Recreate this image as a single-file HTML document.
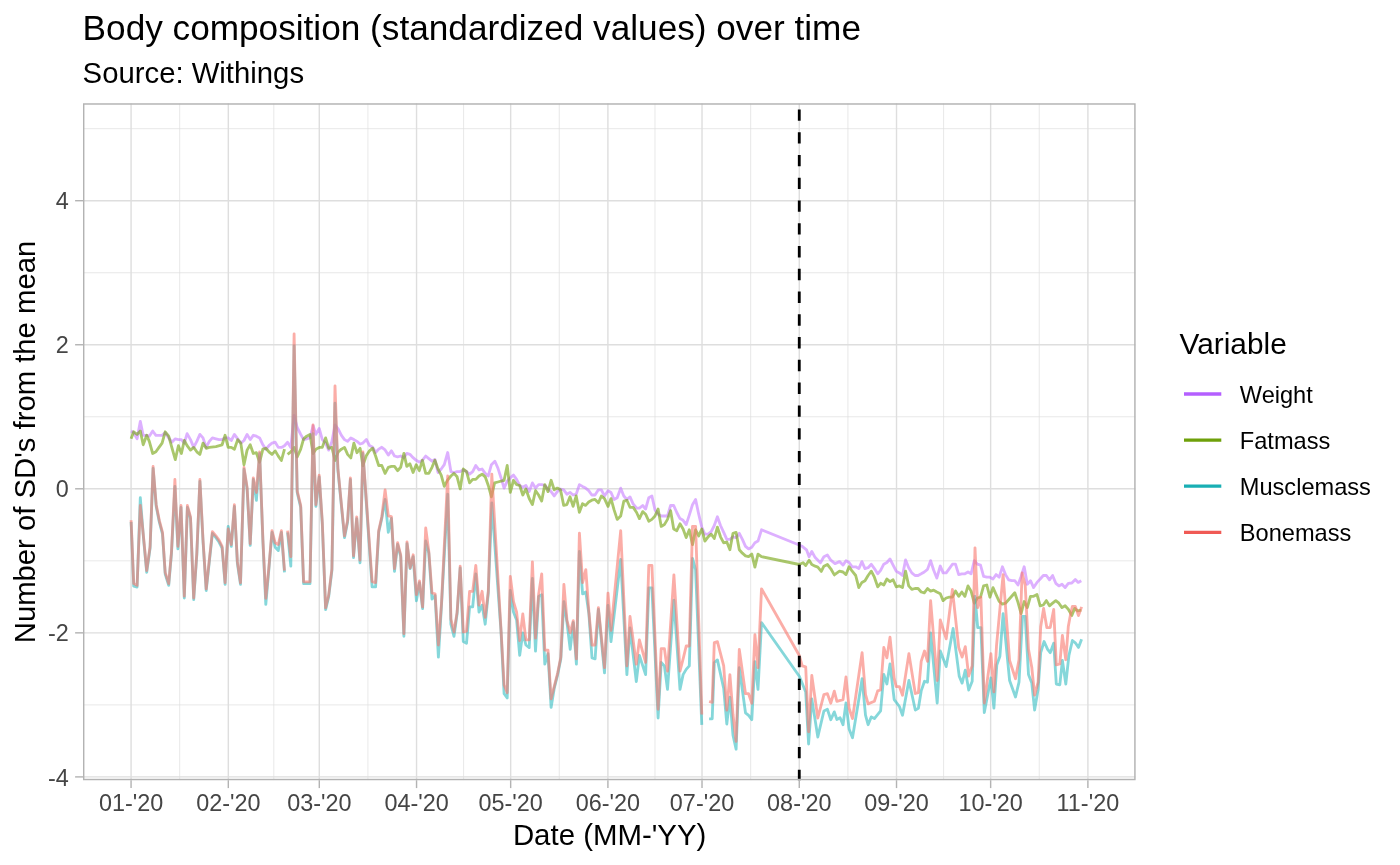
<!DOCTYPE html>
<html><head><meta charset="utf-8"><style>html,body{margin:0;padding:0;background:#fff;width:1400px;height:865px;overflow:hidden}svg{display:block;will-change:transform}</style></head>
<body><svg width="1400" height="865" viewBox="0 0 1400 865">
<rect width="1400" height="865" fill="#fff"/>
<defs><clipPath id="pc"><rect x="83.0" y="103.3" width="1052.6" height="676.9000000000001"/></clipPath></defs>
<g clip-path="url(#pc)">
<line x1="83.0" x2="1135.6" y1="848.92" y2="848.92" stroke="#DEDEDE" stroke-width="0.71"/>
<line x1="83.0" x2="1135.6" y1="704.88" y2="704.88" stroke="#DEDEDE" stroke-width="0.71"/>
<line x1="83.0" x2="1135.6" y1="560.83" y2="560.83" stroke="#DEDEDE" stroke-width="0.71"/>
<line x1="83.0" x2="1135.6" y1="416.77" y2="416.77" stroke="#DEDEDE" stroke-width="0.71"/>
<line x1="83.0" x2="1135.6" y1="272.73" y2="272.73" stroke="#DEDEDE" stroke-width="0.71"/>
<line x1="83.0" x2="1135.6" y1="128.68" y2="128.68" stroke="#DEDEDE" stroke-width="0.71"/>
<line y1="103.3" y2="780.2" x1="82.44" x2="82.44" stroke="#DEDEDE" stroke-width="0.71"/>
<line y1="103.3" y2="780.2" x1="179.70" x2="179.70" stroke="#DEDEDE" stroke-width="0.71"/>
<line y1="103.3" y2="780.2" x1="273.81" x2="273.81" stroke="#DEDEDE" stroke-width="0.71"/>
<line y1="103.3" y2="780.2" x1="367.92" x2="367.92" stroke="#DEDEDE" stroke-width="0.71"/>
<line y1="103.3" y2="780.2" x1="463.60" x2="463.60" stroke="#DEDEDE" stroke-width="0.71"/>
<line y1="103.3" y2="780.2" x1="559.28" x2="559.28" stroke="#DEDEDE" stroke-width="0.71"/>
<line y1="103.3" y2="780.2" x1="654.97" x2="654.97" stroke="#DEDEDE" stroke-width="0.71"/>
<line y1="103.3" y2="780.2" x1="750.65" x2="750.65" stroke="#DEDEDE" stroke-width="0.71"/>
<line y1="103.3" y2="780.2" x1="847.90" x2="847.90" stroke="#DEDEDE" stroke-width="0.71"/>
<line y1="103.3" y2="780.2" x1="943.58" x2="943.58" stroke="#DEDEDE" stroke-width="0.71"/>
<line y1="103.3" y2="780.2" x1="1039.26" x2="1039.26" stroke="#DEDEDE" stroke-width="0.71"/>
<line y1="103.3" y2="780.2" x1="1135.73" x2="1135.73" stroke="#DEDEDE" stroke-width="0.71"/>
<line x1="83.0" x2="1135.6" y1="776.90" y2="776.90" stroke="#DEDEDE" stroke-width="1.42"/>
<line x1="83.0" x2="1135.6" y1="632.85" y2="632.85" stroke="#DEDEDE" stroke-width="1.42"/>
<line x1="83.0" x2="1135.6" y1="488.80" y2="488.80" stroke="#DEDEDE" stroke-width="1.42"/>
<line x1="83.0" x2="1135.6" y1="344.75" y2="344.75" stroke="#DEDEDE" stroke-width="1.42"/>
<line x1="83.0" x2="1135.6" y1="200.70" y2="200.70" stroke="#DEDEDE" stroke-width="1.42"/>
<line y1="103.3" y2="780.2" x1="131.07" x2="131.07" stroke="#DEDEDE" stroke-width="1.42"/>
<line y1="103.3" y2="780.2" x1="228.32" x2="228.32" stroke="#DEDEDE" stroke-width="1.42"/>
<line y1="103.3" y2="780.2" x1="319.30" x2="319.30" stroke="#DEDEDE" stroke-width="1.42"/>
<line y1="103.3" y2="780.2" x1="416.55" x2="416.55" stroke="#DEDEDE" stroke-width="1.42"/>
<line y1="103.3" y2="780.2" x1="510.66" x2="510.66" stroke="#DEDEDE" stroke-width="1.42"/>
<line y1="103.3" y2="780.2" x1="607.91" x2="607.91" stroke="#DEDEDE" stroke-width="1.42"/>
<line y1="103.3" y2="780.2" x1="702.02" x2="702.02" stroke="#DEDEDE" stroke-width="1.42"/>
<line y1="103.3" y2="780.2" x1="799.27" x2="799.27" stroke="#DEDEDE" stroke-width="1.42"/>
<line y1="103.3" y2="780.2" x1="896.52" x2="896.52" stroke="#DEDEDE" stroke-width="1.42"/>
<line y1="103.3" y2="780.2" x1="990.64" x2="990.64" stroke="#DEDEDE" stroke-width="1.42"/>
<line y1="103.3" y2="780.2" x1="1087.89" x2="1087.89" stroke="#DEDEDE" stroke-width="1.42"/>
<polyline points="131.1,431.0 133.7,432.7 137.1,438.8 140.3,421.4 143.2,435.3 146.7,435.3 149.3,436.2 152.7,431.0 155.9,435.3 159.0,435.3 162.1,435.3 165.2,432.7 168.7,437.9 171.8,442.2 175.3,438.8 178.4,439.6 181.4,439.6 184.3,443.1 187.1,433.6 190.5,439.6 193.7,447.4 196.8,441.4 199.9,434.4 203.0,437.9 206.2,447.4 209.3,441.4 212.4,437.9 215.9,438.8 219.0,439.6 222.1,439.6 225.1,437.9 228.2,437.9 231.3,440.5 234.4,434.4 237.7,438.8 240.8,443.1 244.0,440.5 247.1,434.4 250.2,439.6 253.3,435.3 256.4,436.2 259.6,437.9 262.9,444.8 265.8,449.2 268.9,445.7 272.0,443.1 275.2,442.2 278.3,447.4 281.4,447.4 284.5,445.7 287.6,442.2 290.8,447.4 294.1,415.4 297.2,427.5 300.7,434.4 303.6,439.6 306.7,438.8 310.0,437.9 313.1,425.8 315.9,434.4 319.2,428.4 322.3,439.6 325.6,443.1 328.7,450.1 331.9,441.4 335.0,424.9 338.3,429.2 341.4,435.3 344.5,439.6 347.6,441.4 350.8,437.9 353.9,439.6 357.0,441.4 360.1,444.0 362.9,443.1 366.4,439.5 369.5,445.6 372.7,447.3 375.6,452.5 378.7,449.1 381.8,447.3 385.1,449.9 388.3,455.1 391.4,450.8 394.5,456.0 397.6,456.9 400.7,456.0 403.9,457.7 406.8,453.4 409.9,454.3 413.1,457.7 416.2,460.3 419.3,462.1 422.4,460.3 425.7,456.0 428.8,458.6 432.0,461.2 434.9,459.5 438.0,472.5 441.2,469.0 444.3,464.7 447.7,452.5 450.9,471.6 454.0,472.5 457.1,471.6 460.2,471.6 463.3,469.9 466.5,471.6 469.6,474.2 472.7,471.6 475.8,465.5 479.0,469.9 482.1,469.0 485.2,473.4 488.3,476.0 491.4,464.7 494.9,461.2 497.9,468.1 501.0,477.7 504.1,488.1 507.2,481.2 510.3,477.7 513.5,475.1 516.6,479.4 519.7,485.5 522.8,487.2 525.9,485.5 529.2,491.6 532.4,482.9 535.5,488.1 538.6,484.6 541.7,484.6 544.8,485.5 548.0,489.0 551.1,491.6 554.2,495.9 557.3,491.6 560.5,489.0 563.7,489.8 566.9,494.2 570.0,492.4 573.1,495.0 576.2,494.2 579.4,484.6 582.5,486.4 585.6,488.1 588.7,490.7 591.8,495.0 595.0,495.0 598.4,489.8 601.4,489.9 604.5,496.0 608.0,490.8 611.0,492.5 614.1,499.5 617.2,497.7 620.7,488.2 623.8,496.0 626.9,499.5 630.0,496.9 633.1,503.8 636.6,508.1 639.4,508.1 642.7,505.5 645.6,509.0 648.8,497.7 651.9,496.0 655.0,509.9 658.1,514.2 661.2,516.0 664.4,516.0 667.5,516.0 670.6,505.5 673.7,505.5 676.8,512.5 680.0,518.6 683.1,520.3 686.2,524.6 689.3,515.1 692.5,504.7 695.6,499.5 698.7,514.2 701.8,527.2 704.9,534.2 708.1,534.2 711.2,531.6 714.3,525.5 717.4,516.8 720.5,525.5 723.7,532.4 726.8,539.4 729.9,539.4 733.0,536.8 736.1,537.6 739.3,533.3 742.4,539.4 745.5,546.3 748.6,548.9 751.8,547.2 754.9,542.8 758.0,541.1 761.5,529.8 802.2,546.3 806.5,549.8 809.1,556.7 811.8,551.5 815.2,557.6 820.4,562.8 823.9,556.7 827.4,555.0 830.8,560.2 835.0,563.6 839.5,561.6 843.0,565.1 846.0,560.7 849.1,562.5 852.2,566.8 855.7,566.8 858.8,568.6 861.9,561.6 865.0,568.6 868.1,567.7 871.3,564.2 874.4,568.6 877.7,573.8 880.6,570.3 883.8,564.2 886.9,562.5 890.0,559.0 893.1,565.1 896.2,571.2 899.4,572.9 902.5,575.5 905.6,559.9 908.7,567.7 911.8,572.9 915.0,575.5 918.1,575.5 921.2,573.8 924.3,572.0 927.5,569.4 930.6,560.7 933.7,570.3 936.8,578.1 940.3,566.0 943.1,572.9 946.2,572.9 949.3,568.6 952.4,564.2 955.5,564.2 958.7,574.6 961.8,573.8 964.9,573.8 968.0,572.0 971.1,573.8 974.3,560.7 977.4,564.2 980.5,565.1 983.6,576.4 986.8,577.2 989.9,577.2 993.0,579.0 996.1,574.6 999.2,577.2 1002.4,566.8 1005.5,574.6 1008.6,579.8 1011.7,580.7 1014.8,580.7 1018.0,585.0 1021.1,576.4 1024.2,566.8 1027.3,584.2 1030.5,580.7 1033.6,587.6 1037.0,582.4 1040.2,579.0 1043.3,575.5 1046.4,575.5 1049.5,579.8 1052.6,575.5 1055.8,583.3 1058.9,585.9 1062.0,584.2 1065.1,587.6 1068.3,583.3 1071.8,583.0 1075.3,579.5 1078.2,582.4 1081.3,580.7" fill="none" stroke="#C77CFF" stroke-opacity="0.6" stroke-width="2.83" stroke-linejoin="round" stroke-linecap="butt"/><polyline points="131.1,438.8 133.7,431.8 137.1,434.4 140.3,431.0 143.2,444.8 146.7,435.3 149.3,441.4 152.7,453.5 155.9,451.8 159.0,447.4 162.1,443.1 165.2,431.8 168.7,436.2 171.8,447.4 175.3,459.6 178.4,445.7 181.4,453.5 184.3,440.5 187.1,445.7 190.5,450.1 193.7,447.4 196.8,451.8 199.9,454.4 203.0,443.1 206.2,448.3 209.3,447.4 215.9,446.6 222.1,444.8 225.1,435.3 228.2,447.4 231.3,447.4 234.4,449.2 237.7,439.6 240.8,443.1 244.0,464.8 247.1,450.1 250.2,444.8 253.3,453.5 256.4,452.7 259.6,462.2 262.9,449.2 265.8,448.3 268.9,451.8 272.0,454.4 275.2,450.9 278.3,456.1 281.4,460.5 284.5,449.2" fill="none" stroke="#72A20A" stroke-opacity="0.6" stroke-width="2.83" stroke-linejoin="round" stroke-linecap="butt"/><polyline points="287.6,454.4 290.8,451.8 294.1,447.4 297.2,457.0 300.7,449.2 303.6,438.8 306.7,436.2 310.0,434.4 313.1,453.5 315.9,449.2 319.2,447.4 322.3,447.4 325.6,437.9 328.7,448.3 331.9,447.4 335.0,460.5 338.3,451.8 341.4,449.2 344.5,447.4 347.6,454.4 350.8,457.9 353.9,443.1 357.0,452.7 360.1,448.3 362.9,465.7 366.1,456.0 369.5,450.8 372.7,448.2 375.6,456.0 378.7,465.5 381.8,465.5 385.1,473.4 388.3,467.3 391.4,466.4 394.5,466.4 397.6,470.7 400.7,467.3 403.9,453.4 406.8,466.4 409.9,463.8 413.1,472.5 416.2,464.7 419.3,470.7 422.4,460.3 425.7,473.4 428.8,473.4 432.0,467.3 434.9,460.3 438.0,469.0 441.2,475.1 444.3,486.4 447.4,480.3 450.9,476.0 454.0,473.4 457.1,476.8 460.2,489.0 463.3,469.0 466.5,471.6 469.6,482.9 472.7,479.4 475.8,479.4 479.0,476.0 482.1,474.2 485.2,476.8 488.3,485.5 491.4,496.8 494.6,482.9 497.9,482.0 501.0,481.2 504.1,480.3 507.2,465.5 510.3,492.4 513.5,480.3 516.6,484.6 519.7,485.5 522.8,495.0 525.9,489.0 529.2,498.5 532.4,504.6 535.5,490.7 538.6,495.0 541.7,501.1 544.8,484.6 548.0,491.6 551.1,480.3 554.2,489.8 557.3,488.1 560.5,489.8 563.7,505.4 566.9,504.6 570.0,496.8 573.1,506.3 576.2,495.9 579.4,512.4 582.5,503.7 585.6,505.4 588.7,502.0 591.8,500.2 595.0,499.4 598.4,502.8 601.4,496.0 604.5,498.6 608.0,506.4 611.0,498.6 614.1,509.9 617.2,519.4 620.7,516.0 623.8,501.2 626.9,500.3 630.0,507.3 633.1,507.3 636.6,512.5 639.4,518.6 642.7,511.6 645.6,514.2 648.8,521.2 651.9,519.4 655.0,516.0 658.1,509.0 661.2,526.4 664.4,524.6 667.5,519.4 670.6,510.7 673.7,529.0 676.8,530.7 680.0,523.8 683.1,529.0 686.2,537.6 689.3,529.8 692.5,544.6 695.6,529.8 698.7,535.9 701.8,529.0 704.9,541.1 708.1,536.8 711.2,534.2 714.3,538.5 717.4,527.2 720.5,536.8 723.7,542.8 726.8,542.0 729.9,549.8 733.0,533.3 736.1,532.4 739.3,549.8 742.4,553.2 745.5,555.8 748.6,556.7 751.8,554.1 754.9,567.1 758.0,554.1 761.5,556.7 799.3,564.5 803.1,562.8 805.7,565.4 809.1,560.2 811.8,564.5 815.2,566.2 817.8,567.1 821.3,571.4 823.9,566.2 827.4,564.5 830.8,568.8 834.3,574.9 839.5,571.2 843.0,572.0 846.0,574.6 849.1,566.8 852.2,571.2 855.7,575.5 858.8,587.6 861.9,582.4 865.0,580.7 868.1,575.5 871.3,571.2 874.4,577.2 877.7,586.8 880.6,583.3 883.8,585.0 886.9,579.0 890.0,581.6 893.1,579.8 896.2,586.8 899.4,585.9 902.5,587.6 905.6,571.2 908.7,585.9 911.8,589.4 915.0,588.5 918.1,588.5 921.2,592.0 924.3,592.8 927.5,588.5 930.6,591.1 933.7,590.2 936.8,592.0 940.3,593.7 943.1,600.6 946.2,598.0 949.3,597.2 952.4,597.2 955.5,591.1 958.7,596.3 961.8,592.0 964.9,596.3 968.0,585.9 971.1,591.1 974.3,603.2 977.4,598.0 980.5,597.2 983.6,585.9 986.8,585.0 989.9,597.2 993.0,587.6 996.1,594.6 999.2,601.5 1002.4,604.1 1005.5,603.2 1008.6,599.8 1011.7,596.3 1014.8,592.8 1018.0,602.4 1021.1,613.6 1024.2,601.5 1027.3,607.6 1030.5,596.3 1033.6,596.3 1037.0,594.6 1040.2,605.8 1043.3,605.0 1046.4,600.6 1049.5,605.8 1052.6,603.2 1055.8,600.6 1058.9,603.2 1062.0,607.6 1065.1,605.8 1068.3,609.3 1071.8,615.4 1074.7,608.4 1077.6,610.8 1081.3,610.2" fill="none" stroke="#72A20A" stroke-opacity="0.6" stroke-width="2.83" stroke-linejoin="round" stroke-linecap="butt"/><polyline points="131.1,522.0 133.7,586.2 137.1,587.0 140.3,497.7 143.6,539.4 146.7,572.3 150.1,548.0 153.1,468.3 156.2,506.4 159.3,522.0 162.5,534.2 165.2,574.0 168.7,585.3 171.5,553.2 174.9,486.5 177.9,548.9 181.0,507.3 184.3,598.0 187.4,507.3 190.5,518.6 193.7,599.7 196.8,555.0 199.9,481.3 203.0,541.1 206.2,590.5 209.3,561.9 212.4,533.3 215.9,537.6 219.0,542.0 222.1,548.0 225.1,584.4 228.2,526.4 231.3,546.3 234.4,506.4 237.4,563.6 240.5,584.4 244.0,469.1 247.1,489.1 250.2,545.4 253.3,479.5 256.4,500.3 259.6,453.5 262.9,541.1 265.8,604.4 268.9,568.8 272.0,532.4 275.2,547.2 278.3,550.6 281.4,532.4 284.5,572.3" fill="none" stroke="#34BCC1" stroke-opacity="0.6" stroke-width="2.83" stroke-linejoin="round" stroke-linecap="butt"/><polyline points="287.6,532.4 290.8,566.2 294.1,346.0 297.2,492.5 300.7,507.3 303.6,583.6 310.0,583.6 313.0,433.6 315.9,506.4 319.2,476.9 322.3,523.8 325.6,609.6 328.7,596.6 331.9,570.6 335.0,403.2 337.9,470.0 344.5,537.6 347.6,522.0 350.4,479.5 353.5,557.6 356.7,518.6 360.0,562.8 362.9,453.5 372.1,586.9 375.6,586.9 378.7,532.3 381.8,518.4 385.1,499.4 388.3,532.3 391.4,518.4 394.5,571.3 397.6,544.4 400.7,556.6 403.9,636.3 407.0,543.6 410.1,568.7 413.2,556.6 416.4,600.8 419.5,582.6 422.6,608.6 425.7,541.0 428.8,553.1 432.0,599.1 435.1,595.6 438.4,657.2 441.5,605.1 447.7,494.2 450.9,624.2 454.0,636.3 457.1,613.8 460.2,567.9 463.3,641.5 466.5,643.3 469.6,606.9 472.7,606.9 475.8,573.9 479.0,612.1 482.1,605.1 485.2,624.2 488.3,593.0 491.8,502.8 501.0,631.1 504.1,693.6 507.2,697.9 510.3,590.4 513.5,612.1 516.6,619.9 519.7,655.4 522.8,632.9 525.9,645.0 529.2,647.6 532.4,578.3 535.5,651.1 538.6,596.5 541.7,594.7 544.8,664.1 548.0,653.7 551.1,707.4 554.2,688.4 557.7,674.5 560.8,658.9 563.9,601.7 567.0,622.5 570.2,649.4 573.3,622.5 576.4,664.1 579.4,551.4 582.6,593.9 585.8,592.1 588.9,613.8 592.0,658.0 595.1,658.9 598.4,609.5 604.5,672.9 608.0,605.3 611.0,641.7 620.7,559.3 626.9,674.6 630.0,627.8 636.3,681.5 639.4,655.5 645.6,674.6 648.8,587.9 651.9,587.9 658.1,718.0 661.2,662.5 664.4,665.9 667.5,689.4 673.9,600.1 680.0,689.4 683.1,674.6 686.2,669.4 689.3,665.9 692.5,558.4 695.6,569.7 701.8,724.9" fill="none" stroke="#34BCC1" stroke-opacity="0.6" stroke-width="2.83" stroke-linejoin="round" stroke-linecap="butt"/><polyline points="709.1,718.8 712.2,718.8 714.3,662.5 717.4,659.9 723.7,688.5 726.8,724.0 729.9,697.2 733.0,735.3 736.1,749.2 739.3,667.7 745.5,712.8 748.6,715.4 751.8,719.7 754.9,661.6 758.0,689.4 761.5,622.6 799.3,676.3 802.2,683.3 805.7,692.0 808.6,744.0 811.8,698.9 817.8,737.0 823.9,711.0 827.4,709.3 830.8,719.7 834.3,711.9 836.9,719.5 840.1,717.8 843.0,724.7 846.0,703.0 849.1,729.0 852.5,737.7 858.8,699.6 862.1,678.7 865.5,715.2 868.1,724.7 871.3,716.9 874.4,718.6 880.6,710.8 883.8,674.4 886.9,684.0 890.0,664.0 894.2,699.6 899.4,706.5 902.5,715.2 908.9,680.5 915.3,710.0 918.4,708.2 921.2,690.9 924.5,681.3 927.5,682.2 930.6,632.8 937.2,703.0 940.3,651.0 946.2,666.6 953.1,628.5 959.2,676.1 962.1,683.1 965.3,670.1 968.7,690.0 972.2,681.3 975.0,596.4 977.7,627.6 980.9,627.6 984.3,712.6 990.9,677.9 993.9,708.2 996.8,664.9 999.9,656.2 1003.1,613.7 1009.6,680.5 1015.5,697.0 1019.0,682.2 1022.5,616.3 1025.2,616.3 1028.5,674.4 1031.8,683.1 1034.6,710.0 1038.1,689.2 1040.7,652.7 1044.1,641.5 1047.6,649.3 1050.2,652.7 1053.7,643.2 1056.3,684.0 1059.8,684.8 1062.4,660.5 1065.8,684.0 1068.9,655.5 1072.4,640.5 1075.3,642.8 1078.5,647.4 1081.6,639.3" fill="none" stroke="#34BCC1" stroke-opacity="0.6" stroke-width="2.83" stroke-linejoin="round" stroke-linecap="butt"/><polyline points="131.1,520.3 133.7,583.6 137.1,585.3 140.3,505.5 143.6,537.6 146.7,570.6 150.1,546.3 153.1,466.5 156.2,504.7 159.3,520.3 162.5,532.4 165.2,572.3 168.7,583.6 171.5,551.5 174.9,479.5 177.9,546.3 181.0,505.5 184.3,596.2 187.4,505.5 190.5,516.8 193.7,598.0 196.8,553.2 199.9,479.5 203.0,539.4 206.2,588.8 209.3,560.2 212.4,531.6 215.9,535.9 219.0,540.2 222.1,546.3 225.1,582.7 228.2,529.0 231.3,544.6 234.4,504.7 237.4,561.9 240.5,582.7 244.0,467.4 247.1,487.3 250.2,543.7 253.3,477.8 256.4,492.5 259.6,451.8 262.9,539.4 265.8,598.3 268.9,567.1 272.0,530.7 275.2,542.8 278.3,544.6 281.4,530.7 284.5,570.6" fill="none" stroke="#F8766D" stroke-opacity="0.6" stroke-width="2.83" stroke-linejoin="round" stroke-linecap="butt"/><polyline points="287.6,530.7 290.8,556.7 294.1,333.9 297.2,490.8 300.7,505.5 303.6,581.8 310.0,581.8 313.0,424.9 315.9,504.7 319.2,475.2 322.3,522.0 325.6,607.9 328.7,594.8 331.9,568.8 335.0,385.9 337.9,468.3 344.5,535.9 347.6,520.3 350.4,477.8 353.5,555.8 356.7,516.8 360.0,560.2 362.9,451.8 372.1,581.7 375.6,582.6 378.7,530.6 381.8,516.7 385.1,489.8 388.3,515.8 391.4,516.7 394.5,568.7 397.6,542.7 400.7,554.8 403.9,633.7 407.0,541.8 410.1,567.9 413.2,554.8 416.4,594.7 419.5,580.9 422.6,606.9 425.7,528.0 428.8,551.4 432.0,593.0 435.1,593.9 438.4,645.0 441.5,603.4 447.7,476.0 450.9,619.0 454.0,632.0 457.1,612.1 460.2,566.1 463.3,632.0 466.5,631.1 469.6,591.3 472.7,591.3 475.8,565.3 479.0,605.1 482.1,591.3 485.2,617.3 488.3,591.3 491.8,474.2 501.0,629.4 504.1,684.9 507.2,692.7 510.3,576.5 513.5,601.7 516.6,612.1 519.7,640.7 522.8,613.8 525.9,639.8 529.2,639.8 532.4,561.8 535.5,638.1 538.6,594.7 541.7,573.9 544.8,650.2 548.0,650.2 551.1,698.8 554.2,686.6 557.7,672.8 560.8,657.2 563.9,584.3 567.0,620.7 570.2,632.9 573.3,620.7 576.4,658.9 579.4,533.2 582.6,582.6 585.8,569.6 588.9,612.1 592.0,645.0 595.1,645.0 598.4,607.7 604.5,667.7 608.0,593.1 611.0,630.4 620.7,530.7 626.9,665.9 630.0,616.5 636.3,664.2 639.4,639.9 645.6,662.5 648.8,565.4 651.9,565.4 658.1,709.3 661.2,648.6 664.4,648.6 667.5,671.1 673.9,574.9 680.0,671.1 683.1,659.0 686.2,646.0 689.3,646.0 692.5,526.4 695.6,526.4 701.8,714.5" fill="none" stroke="#F8766D" stroke-opacity="0.6" stroke-width="2.83" stroke-linejoin="round" stroke-linecap="butt"/><polyline points="709.1,701.5 712.2,702.4 714.3,642.5 717.4,641.7 723.7,665.9 726.8,710.2 729.9,674.6 733.0,714.5 736.1,741.4 739.3,649.5 745.5,693.7 748.6,693.7 751.8,703.2 754.9,634.7 758.0,667.7 761.5,588.8 799.3,655.5 802.2,665.9 805.7,666.8 808.6,731.8 811.8,675.5 817.8,718.0 823.9,694.6 827.4,693.7 830.8,703.2 834.3,691.1 836.9,701.3 843.0,699.6 846.0,677.0 849.1,708.2 852.5,718.6 858.8,675.3 862.1,652.7 865.5,694.4 868.1,703.9 874.4,701.3 877.7,690.9 880.6,690.0 883.8,647.5 886.9,657.9 890.0,637.1 894.2,678.7 896.2,686.6 899.4,686.6 902.5,695.2 908.9,653.6 915.3,693.5 918.4,692.6 921.2,661.4 924.5,651.0 927.5,661.4 930.6,600.7 937.2,680.5 940.3,619.8 946.2,638.9 952.4,589.4 958.7,647.5 962.1,657.1 965.3,646.7 968.7,676.1 972.2,665.7 975.0,547.8 977.7,607.7 980.9,597.2 984.3,703.0 990.9,653.6 993.9,691.8 996.5,645.8 1003.1,574.7 1009.6,660.5 1015.5,678.7 1019.0,659.7 1022.1,573.0 1025.2,585.1 1028.5,649.3 1031.8,667.5 1034.6,695.2 1038.1,682.2 1040.7,626.7 1043.6,608.5 1046.8,627.6 1050.2,627.6 1053.7,609.4 1056.3,664.9 1059.8,664.0 1062.4,635.4 1065.8,659.7 1068.3,626.6 1070.6,613.9 1072.4,606.4 1075.3,606.4 1078.5,615.6 1081.6,606.9" fill="none" stroke="#F8766D" stroke-opacity="0.6" stroke-width="2.83" stroke-linejoin="round" stroke-linecap="butt"/>
<line x1="799.27" x2="799.27" y1="781.1" y2="103.3" stroke="#000" stroke-width="2.83" stroke-dasharray="11.385 11.385"/>
<rect x="83.0" y="103.3" width="1052.6" height="676.9000000000001" fill="none" stroke="#B3B3B3" stroke-width="2.83"/>
</g>
<line x1="75.1" x2="83.0" y1="776.90" y2="776.90" stroke="#B3B3B3" stroke-width="1.42"/>
<line x1="75.1" x2="83.0" y1="632.85" y2="632.85" stroke="#B3B3B3" stroke-width="1.42"/>
<line x1="75.1" x2="83.0" y1="488.80" y2="488.80" stroke="#B3B3B3" stroke-width="1.42"/>
<line x1="75.1" x2="83.0" y1="344.75" y2="344.75" stroke="#B3B3B3" stroke-width="1.42"/>
<line x1="75.1" x2="83.0" y1="200.70" y2="200.70" stroke="#B3B3B3" stroke-width="1.42"/>
<line y1="780.2" y2="788.1" x1="131.07" x2="131.07" stroke="#B3B3B3" stroke-width="1.42"/>
<line y1="780.2" y2="788.1" x1="228.32" x2="228.32" stroke="#B3B3B3" stroke-width="1.42"/>
<line y1="780.2" y2="788.1" x1="319.30" x2="319.30" stroke="#B3B3B3" stroke-width="1.42"/>
<line y1="780.2" y2="788.1" x1="416.55" x2="416.55" stroke="#B3B3B3" stroke-width="1.42"/>
<line y1="780.2" y2="788.1" x1="510.66" x2="510.66" stroke="#B3B3B3" stroke-width="1.42"/>
<line y1="780.2" y2="788.1" x1="607.91" x2="607.91" stroke="#B3B3B3" stroke-width="1.42"/>
<line y1="780.2" y2="788.1" x1="702.02" x2="702.02" stroke="#B3B3B3" stroke-width="1.42"/>
<line y1="780.2" y2="788.1" x1="799.27" x2="799.27" stroke="#B3B3B3" stroke-width="1.42"/>
<line y1="780.2" y2="788.1" x1="896.52" x2="896.52" stroke="#B3B3B3" stroke-width="1.42"/>
<line y1="780.2" y2="788.1" x1="990.64" x2="990.64" stroke="#B3B3B3" stroke-width="1.42"/>
<line y1="780.2" y2="788.1" x1="1087.89" x2="1087.89" stroke="#B3B3B3" stroke-width="1.42"/>
<text x="68.8" y="785.50" text-anchor="end" style="font-family:'Liberation Sans',sans-serif;font-size:23.4px" fill="#454545">-4</text>
<text x="68.8" y="641.45" text-anchor="end" style="font-family:'Liberation Sans',sans-serif;font-size:23.4px" fill="#454545">-2</text>
<text x="68.8" y="497.40" text-anchor="end" style="font-family:'Liberation Sans',sans-serif;font-size:23.4px" fill="#454545">0</text>
<text x="68.8" y="353.35" text-anchor="end" style="font-family:'Liberation Sans',sans-serif;font-size:23.4px" fill="#454545">2</text>
<text x="68.8" y="209.30" text-anchor="end" style="font-family:'Liberation Sans',sans-serif;font-size:23.4px" fill="#454545">4</text>
<text x="131.07" y="810.7" text-anchor="middle" style="font-family:'Liberation Sans',sans-serif;font-size:23.4px" fill="#454545">01-&#39;20</text>
<text x="228.32" y="810.7" text-anchor="middle" style="font-family:'Liberation Sans',sans-serif;font-size:23.4px" fill="#454545">02-&#39;20</text>
<text x="319.30" y="810.7" text-anchor="middle" style="font-family:'Liberation Sans',sans-serif;font-size:23.4px" fill="#454545">03-&#39;20</text>
<text x="416.55" y="810.7" text-anchor="middle" style="font-family:'Liberation Sans',sans-serif;font-size:23.4px" fill="#454545">04-&#39;20</text>
<text x="510.66" y="810.7" text-anchor="middle" style="font-family:'Liberation Sans',sans-serif;font-size:23.4px" fill="#454545">05-&#39;20</text>
<text x="607.91" y="810.7" text-anchor="middle" style="font-family:'Liberation Sans',sans-serif;font-size:23.4px" fill="#454545">06-&#39;20</text>
<text x="702.02" y="810.7" text-anchor="middle" style="font-family:'Liberation Sans',sans-serif;font-size:23.4px" fill="#454545">07-&#39;20</text>
<text x="799.27" y="810.7" text-anchor="middle" style="font-family:'Liberation Sans',sans-serif;font-size:23.4px" fill="#454545">08-&#39;20</text>
<text x="896.52" y="810.7" text-anchor="middle" style="font-family:'Liberation Sans',sans-serif;font-size:23.4px" fill="#454545">09-&#39;20</text>
<text x="990.64" y="810.7" text-anchor="middle" style="font-family:'Liberation Sans',sans-serif;font-size:23.4px" fill="#454545">10-&#39;20</text>
<text x="1087.89" y="810.7" text-anchor="middle" style="font-family:'Liberation Sans',sans-serif;font-size:23.4px" fill="#454545">11-&#39;20</text>
<text x="609.6" y="844.6" text-anchor="middle" style="font-family:'Liberation Sans',sans-serif;font-size:29.4px" fill="#000">Date (MM-&#39;YY)</text>
<text transform="translate(35.4,442) rotate(-90)" x="0" y="0" text-anchor="middle" style="font-family:'Liberation Sans',sans-serif;font-size:29.27px" fill="#000">Number of SD&#39;s from the mean</text>
<text x="82.6" y="39.8" style="font-family:'Liberation Sans',sans-serif;font-size:35.2px" fill="#000">Body composition (standardized values) over time</text>
<text x="82.6" y="83" style="font-family:'Liberation Sans',sans-serif;font-size:29.3px" fill="#000">Source: Withings</text>
<text x="1179.6" y="353.9" style="font-family:'Liberation Sans',sans-serif;font-size:29.8px" fill="#000">Variable</text>
<line x1="1184" x2="1221.3" y1="394.00" y2="394.00" stroke="#B45FFF" stroke-width="3.3"/>
<text x="1239.8" y="403.00" style="font-family:'Liberation Sans',sans-serif;font-size:23.6px" fill="#000">Weight</text>
<line x1="1184" x2="1221.3" y1="440.10" y2="440.10" stroke="#6EA00A" stroke-width="3.3"/>
<text x="1239.8" y="449.10" style="font-family:'Liberation Sans',sans-serif;font-size:23.6px" fill="#000">Fatmass</text>
<line x1="1184" x2="1221.3" y1="486.20" y2="486.20" stroke="#19AFB4" stroke-width="3.3"/>
<text x="1239.8" y="495.20" style="font-family:'Liberation Sans',sans-serif;font-size:23.6px" fill="#000">Musclemass</text>
<line x1="1184" x2="1221.3" y1="532.30" y2="532.30" stroke="#F05A55" stroke-width="3.3"/>
<text x="1239.8" y="541.30" style="font-family:'Liberation Sans',sans-serif;font-size:23.6px" fill="#000">Bonemass</text>
</svg></body></html>
